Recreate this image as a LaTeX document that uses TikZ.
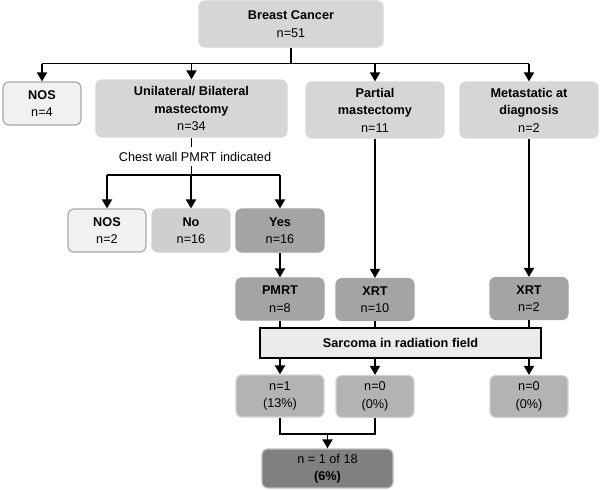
\documentclass[tikz,border=0pt]{standalone}
\usepackage{fontspec}
\setmainfont{Liberation Sans}
\usetikzlibrary{arrows.meta}
\definecolor{cTop}{HTML}{D6D6D6}
\definecolor{cNos}{HTML}{F1F1F1}
\definecolor{cNosB}{HTML}{A8A8A8}
\definecolor{cNo}{HTML}{CFCFCF}
\definecolor{cYes}{HTML}{A4A4A4}
\definecolor{cRes}{HTML}{B3B3B3}
\definecolor{cResB}{HTML}{D2D2D2}
\definecolor{cFin}{HTML}{808080}
\definecolor{cFinB}{HTML}{BDBDBD}
\definecolor{cSarc}{HTML}{EBEBEB}
\begin{document}
\begin{tikzpicture}[x=1bp,y=-1bp,
  box/.style={rounded corners=6bp, align=center, inner sep=0pt,
    font=\fontsize{12.7bp}{17.5bp}\selectfont, line width=1.2bp},
  topbox/.style={box, fill=cTop, draw=cTop},
  nosbox/.style={box, fill=cNos, draw=cNosB, minimum width=78bp, minimum height=43bp},
  midbox/.style={box, fill=cYes, draw=cYes, minimum height=42bp},
  resbox/.style={box, fill=cRes, draw=cResB, minimum height=42bp},
  conn/.style={line width=1.8bp, draw=black},
  arr/.style={conn, -{Triangle[width=10bp,length=9bp]}}
]
\useasboundingbox (0,0) rectangle (600,490);

% top level
\node[topbox, minimum width=184bp, minimum height=46bp] (bc) at (291,24) {\textbf{Breast Cancer}\\n=51};
\node[nosbox] (nos1) at (42,103.5) {\textbf{NOS}\\n=4};
\node[topbox, minimum width=191bp, minimum height=57bp] (uni) at (191.5,108.5) {\textbf{Unilateral/ Bilateral}\\\textbf{mastectomy}\\n=34};
\node[topbox, minimum width=138bp, minimum height=56bp] (part) at (375,110) {\textbf{Partial}\\\textbf{mastectomy}\\n=11};
\node[topbox, minimum width=138bp, minimum height=56bp] (meta) at (529,110) {\textbf{Metastatic at}\\\textbf{diagnosis}\\n=2};

% chest wall branch
\node[font=\fontsize{12.7bp}{15bp}\selectfont, inner sep=0pt, minimum height=19bp] (cw) at (195,156.5) {Chest wall PMRT indicated};
\node[nosbox] (nos2) at (107,230.5) {\textbf{NOS}\\n=2};
\node[box, fill=cNo, draw=cNo, minimum width=78bp, minimum height=43bp] (no) at (191,230.5) {\textbf{No}\\n=16};
\node[midbox, minimum width=88bp, minimum height=43bp] (yes) at (280,230.5) {\textbf{Yes}\\n=16};

% treatment
\node[midbox, minimum width=88bp] (pmrt) at (280,299) {\textbf{PMRT}\\n=8};
\node[midbox, minimum width=78bp] (xrt1) at (375,299.5) {\textbf{XRT}\\n=10};
\node[midbox, minimum width=78bp] (xrt2) at (529,298.5) {\textbf{XRT}\\n=2};

% sarcoma
\node[fill=cSarc, draw=black, line width=1.5bp, minimum width=281bp, minimum height=30bp, inner sep=0pt,
  font=\fontsize{12.7bp}{15bp}\selectfont\bfseries] (sarc) at (400.5,343) {Sarcoma in radiation field};

% results
\node[resbox, minimum width=88bp] (r1) at (280,396) {n=1\\(13\%)};
\node[resbox, minimum width=78bp] (r2) at (375,396.5) {n=0\\(0\%)};
\node[resbox, minimum width=78bp] (r3) at (529,396.5) {n=0\\(0\%)};
\node[box, fill=cFin, draw=cFinB, minimum width=131bp, minimum height=39bp] (fin) at (327.5,468.5) {n = 1 of 18\\\textbf{(6\%)}};

% connectors: top split
\draw[conn] (bc.south) -- ++(0,16) coordinate (h1);
\draw[conn] (h1 -| nos1.north) -- (h1 -| meta.north);
\draw[arr] (h1 -| nos1.north) -- (nos1.north);
\draw[arr] (h1 -| uni.north) -- (uni.north);
\draw[arr] (h1 -| part.north) -- (part.north);
\draw[arr] (h1 -| meta.north) -- (meta.north);

% chest wall split
\draw[conn] (uni.south) -- (uni.south |- cw.north);
\draw[conn] (uni.south |- cw.south) -- ++(0,9) coordinate (h2);
\draw[conn] (h2 -| nos2.north) -- (h2 -| yes.north);
\draw[arr] (h2 -| nos2.north) -- (nos2.north);
\draw[arr] (h2 -| no.north) -- (no.north);
\draw[arr] (h2 -| yes.north) -- (yes.north);

% to treatment
\draw[arr] (yes.south) -- (pmrt.north);
\draw[arr] (part.south) -- (xrt1.north);
\draw[arr] (meta.south) -- (xrt2.north);

% into sarcoma box
\draw[conn] (pmrt.south) -- (pmrt.south |- sarc.north);
\draw[conn] (xrt1.south) -- (xrt1.south |- sarc.north);
\draw[conn] (xrt2.south) -- (xrt2.south |- sarc.north);

% out of sarcoma box
\draw[arr] (sarc.south -| r1.north) -- (r1.north);
\draw[arr] (sarc.south -| r2.north) -- (r2.north);
\draw[arr] (sarc.south -| r3.north) -- (r3.north);

% merge
\draw[conn] (r1.south) -- ++(0,16) coordinate (h3) -- (h3 -| r2.south) -- (r2.south);
\draw[arr] (h3 -| fin.north) -- (fin.north);
\end{tikzpicture}
\end{document}
